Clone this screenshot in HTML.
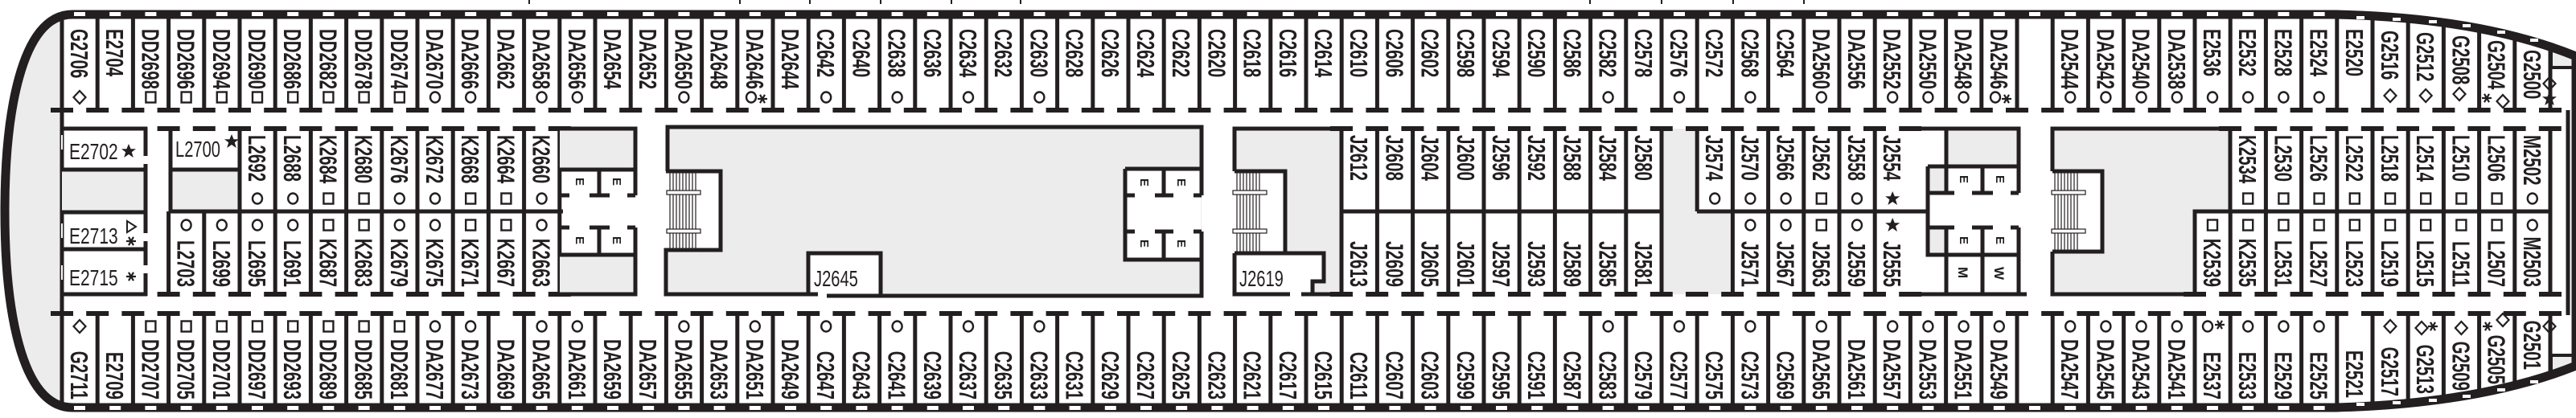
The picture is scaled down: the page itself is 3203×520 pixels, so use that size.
<!DOCTYPE html>
<html><head><meta charset="utf-8"><style>
html,body{margin:0;padding:0;background:#fff}
svg{display:block}
.v{font-family:"Liberation Sans",sans-serif;font-weight:bold;font-size:31px;fill:#231f20}
.h{font-family:"Liberation Sans",sans-serif;font-size:28px;fill:#231f20}
.e{font-family:"Liberation Sans",sans-serif;font-weight:bold;font-size:15px;fill:#231f20}
.ast{font-family:"Liberation Sans",sans-serif;font-weight:bold;font-size:26px;fill:#231f20}
</style></head><body>
<svg width="3203" height="520" viewBox="0 0 3203 520" xmlns="http://www.w3.org/2000/svg">
<defs>
<clipPath id="hc"><path d="M90 18 L2905 18 Q3085 22 3203 70 L3203 455 Q3085 502 2905 507 L90 507 C25 507 6 380 6 263 C6 146 25 18 90 18Z"/></clipPath>
<g id="o"><ellipse cx="0" cy="0" rx="6" ry="6.5" fill="none" stroke="#231f20" stroke-width="2.4"/></g>
<g id="s"><rect x="-6" y="-6.5" width="12" height="13" fill="none" stroke="#231f20" stroke-width="2.4"/></g>
<g id="d"><path d="M0 -8 L7.5 0 L0 8 L-7.5 0Z" fill="none" stroke="#231f20" stroke-width="2.2"/></g>
<g id="k"><path d="M0 -9 L2.6 -2.8 L9 -2.8 L3.8 1.2 L5.8 8 L0 4 L-5.8 8 L-3.8 1.2 L-9 -2.8 L-2.6 -2.8Z" fill="#231f20"/></g>
<g id="a"><path d="M-6 0H6M-3 -5.2L3 5.2M3 -5.2L-3 5.2" stroke="#231f20" stroke-width="2.2"/></g>
<g id="t"><path d="M-5 -7 L6 0 L-5 7Z" fill="none" stroke="#231f20" stroke-width="2"/></g>
</defs>

<!-- ticks above -->
<path d="M658 0V5M920 0V5M1007 0V5M1095 0V5M1183 0V5M1269 0V5M1977 0V5M2066 0V5M2155 0V5M2243 0V5" stroke="#231f20" stroke-width="2"/>

<!-- hull interior -->
<path d="M90 18 L2905 18 Q3085 22 3203 70 L3203 455 Q3085 502 2905 507 L90 507 C25 507 6 380 6 263 C6 146 25 18 90 18Z" fill="#fff"/>
<g clip-path="url(#hc)">
<path d="M77 0 L0 0 L0 520 L77 520Z" fill="#ececec"/>
<path d="M3172 60 L3203 60 L3203 84 L3172 84Z M3172 442 L3203 442 L3203 466 L3172 466Z" fill="#ececec"/>
<path d="M3172 60V84H3203 M3172 466V442H3203" stroke="#231f20" stroke-width="4" fill="none"/>

<!-- row dividers -->
<path stroke="#231f20" stroke-width="5" fill="none" d="
M77 20V137M121.2 20V137M165.4 20V137M209.6 20V137M253.8 20V137M298 20V137M342.2 20V137M386.4 20V137M430.6 20V137M474.8 20V137M519 20V137M563.2 20V137M607.4 20V137M651.6 20V137M695.8 20V137M740 20V137M784.2 20V137M828.4 20V137M872.6 20V137M916.8 20V137M961 20V137M1005.2 20V137M1049.4 20V137M1093.6 20V137M1137.8 20V137M1182 20V137M1226.2 20V137M1270.4 20V137M1314.6 20V137M1358.8 20V137M1403 20V137M1447.2 20V137M1491.4 20V137M1535.6 20V137M1579.8 20V137M1624 20V137M1668.2 20V137M1712.4 20V137M1756.6 20V137M1800.8 20V137M1845 20V137M1889.2 20V137M1933.4 20V137M1977.6 20V137M2021.8 20V137M2066 20V137M2110.2 20V137M2154.4 20V137M2198.6 20V137M2242.8 20V137M2287 20V137M2331.2 20V137M2375.4 20V137M2419.6 20V137M2463.8 20V137M2508 20V137M2552.2 20V137M2596.4 20V137M2640.6 20V137M2684.8 20V137M2729 20V137M2773.2 20V137M2817.4 20V137M2861.6 20V137M2905.8 20V137M2950 20V137M2994.2 20V137M3038.4 20V137M3082.6 20V137M3126.8 20V137M3171 20V137
M77 390V505M121.2 390V505M165.4 390V505M209.6 390V505M253.8 390V505M298 390V505M342.2 390V505M386.4 390V505M430.6 390V505M474.8 390V505M519 390V505M563.2 390V505M607.4 390V505M651.6 390V505M695.8 390V505M740 390V505M784.2 390V505M828.4 390V505M872.6 390V505M916.8 390V505M961 390V505M1005.2 390V505M1049.4 390V505M1093.6 390V505M1137.8 390V505M1182 390V505M1226.2 390V505M1270.4 390V505M1314.6 390V505M1358.8 390V505M1403 390V505M1447.2 390V505M1491.4 390V505M1535.6 390V505M1579.8 390V505M1624 390V505M1668.2 390V505M1712.4 390V505M1756.6 390V505M1800.8 390V505M1845 390V505M1889.2 390V505M1933.4 390V505M1977.6 390V505M2021.8 390V505M2066 390V505M2110.2 390V505M2154.4 390V505M2198.6 390V505M2242.8 390V505M2287 390V505M2331.2 390V505M2375.4 390V505M2419.6 390V505M2463.8 390V505M2508 390V505M2552.2 390V505M2596.4 390V505M2640.6 390V505M2684.8 390V505M2729 390V505M2773.2 390V505M2817.4 390V505M2861.6 390V505M2905.8 390V505M2950 390V505M2994.2 390V505M3038.4 390V505M3082.6 390V505M3126.8 390V505M3171 390V505
M77 20V505 M3193 137V392"/>
<path d="M63 137H3185 M63 390H3185" stroke="#231f20" stroke-width="6" stroke-dasharray="28 16.2"/>

<!-- windows in bands drawn after hull stroke below -->

<!-- ===== middle blocks ===== -->
<!-- E27 group -->
<rect x="77" y="211" width="104" height="53" fill="#ececec"/>
<path d="M77 160H183 M77 211H181 M77 264H181 M77 310H181 M77 366H183 M181 158V194 M181 204V290 M181 300V330 M181 340V368" stroke="#231f20" stroke-width="5" fill="none"/>
<path d="M77 168V186 M77 278V296 M77 330V348" stroke="#fff" stroke-width="2"/>
<text class="h" transform="translate(86,198) scale(.75,1)">E2702</text>
<use href="#k" x="160" y="188"/>
<text class="h" transform="translate(86,303) scale(.75,1)">E2713</text>
<use href="#t" x="163" y="282"/><use href="#a" x="163" y="300"/>
<text class="h" transform="translate(86,355) scale(.75,1)">E2715</text>
<use href="#a" x="163" y="344"/>

<!-- L2700 -->
<rect x="212" y="211" width="86" height="52" fill="#ececec"/>
<path d="M212 160V263 M212 211H298" stroke="#231f20" stroke-width="5" fill="none"/>
<text class="h" transform="translate(218,195) scale(.72,1)">L2700</text>
<use href="#k" x="288" y="176"/>

<!-- mid cells left -->
<path stroke="#231f20" stroke-width="5" fill="none" d="M209.6 263H700
M298 160V263M342.2 160V263M386.4 160V263M430.6 160V263M474.8 160V263M519 160V263M563.2 160V263M607.4 160V263M651.6 160V263M695.8 160V366
M209.6 263V366M253.8 263V366M298 263V366M342.2 263V366M386.4 263V366M430.6 263V366M474.8 263V366M519 263V366M563.2 263V366M607.4 263V366M651.6 263V366"/>
<path d="M195.6 160H710 M195.6 366H710" stroke="#231f20" stroke-width="6" stroke-dasharray="28 16.2"/>

<!-- elevator block 1 -->
<rect x="696" y="160" width="94" height="51" fill="#ececec"/>
<rect x="696" y="317" width="94" height="49" fill="#ececec"/>
<path stroke="#231f20" stroke-width="5" fill="none" d="M696 160H790V243 M790 283V366H696 M696 211H790 M696 317H790 M745 211V243 M696 243H708 M733 243H758 M780 243H790 M745 283V317 M696 283H708 M733 283H758 M780 283H790"/>
<text class="e" transform="translate(716,221) rotate(90)">E</text><text class="e" transform="translate(762,221) rotate(90)">E</text>
<text class="e" transform="translate(716,294) rotate(90)">E</text><text class="e" transform="translate(762,294) rotate(90)">E</text>

<!-- atrium 1 -->
<rect x="830" y="160" width="664" height="206" fill="#ececec"/>
<rect x="830" y="213" width="66" height="98" fill="#fff"/>
<rect x="1005" y="315" width="90" height="51" fill="#fff"/>
<rect x="1399" y="210" width="94" height="113" fill="#fff"/>
<path stroke="#231f20" stroke-width="5" fill="none" d="M830 213V158H1494V243 M1494 288V368H1028 M1017 366H828V311H896V213H828 M1005 366V315H1095V366 M1399 210H1494 M1399 210V323H1494 M1447 210V243 M1399 243H1411 M1436 243H1459 M1484 243H1494 M1447 288V323 M1399 288H1411 M1436 288H1459 M1484 288H1494"/>
<path stroke="#231f20" stroke-width="1.2" d="M833 213V311M837 213V311M841 213V311M845 213V311M849 213V311M853 213V311M857 213V311M861 213V311M865 213V311"/>
<rect x="829" y="237" width="42" height="5" fill="#fff" stroke="#231f20" stroke-width="1.2"/>
<rect x="829" y="285" width="42" height="5" fill="#fff" stroke="#231f20" stroke-width="1.2"/>
<text class="h" transform="translate(1012,356) scale(.72,1)">J2645</text>
<text class="e" transform="translate(1418,222) rotate(90)">E</text><text class="e" transform="translate(1464,222) rotate(90)">E</text>
<text class="e" transform="translate(1418,298) rotate(90)">E</text><text class="e" transform="translate(1464,298) rotate(90)">E</text>

<!-- block E -->
<rect x="1535" y="160" width="133" height="206" fill="#ececec"/>
<rect x="1535" y="213" width="63" height="100" fill="#fff"/>
<path d="M1535 315H1646V350H1632V366H1535Z" fill="#fff"/>
<path stroke="#231f20" stroke-width="5" fill="none" d="M1535 213V160H1668V366 M1535 213H1598V313 M1535 315H1646V350H1632V366 M1535 315V366H1604 M1618 366H1668"/>
<path stroke="#231f20" stroke-width="1.2" d="M1538 213V313M1542 213V313M1546 213V313M1550 213V313M1554 213V313M1558 213V313M1562 213V313M1566 213V313"/>
<rect x="1533" y="237" width="42" height="5" fill="#fff" stroke="#231f20" stroke-width="1.2"/>
<rect x="1533" y="285" width="42" height="5" fill="#fff" stroke="#231f20" stroke-width="1.2"/>
<text class="h" transform="translate(1541,356) scale(.72,1)">J2619</text>

<!-- J cells + grey -->
<path d="M2066 160H2110V263H2154V366H2066Z" fill="#ececec"/>
<path stroke="#231f20" stroke-width="5" fill="none" d="M1668 263H2066 M2110 263H2397
M1712.4 160V366M1756.6 160V366M1800.8 160V366M1845 160V366M1889.2 160V366M1933.4 160V366M1977.6 160V366M2021.8 160V366M2066 160V366
M2110.2 160V263M2154.4 160V366M2198.6 160V366M2242.8 160V366M2287 160V366M2331.2 160V366 M2154.4 263V366"/>
<path d="M1654 160H2400 M1654 366H2400" stroke="#231f20" stroke-width="6" stroke-dasharray="28 16.2"/>

<!-- elevator block 2 -->
<rect x="2420" y="160" width="90" height="47" fill="#ececec"/>
<rect x="2397" y="207" width="23" height="33" fill="#ececec"/>
<rect x="2397" y="283" width="23" height="34" fill="#ececec"/>
<path stroke="#231f20" stroke-width="5" fill="none" d="M2380 160H2510V240 M2420 160V207 M2397 207H2510 M2397 207V317H2420 M2420 207V240 M2465 207V240 M2397 240H2430 M2452 240H2478 M2500 240H2510 M2397 283H2430 M2452 283H2478 M2500 283H2510 M2510 283V366 M2420 283V366 M2465 283V366 M2420 317H2510 M2397 366H2520 M2375 366H2397"/>
<text class="e" transform="translate(2437,218) rotate(90)">E</text><text class="e" transform="translate(2482,218) rotate(90)">E</text>
<text class="e" transform="translate(2437,294) rotate(90)">E</text><text class="e" transform="translate(2482,294) rotate(90)">E</text>
<text class="e" transform="translate(2435,332) rotate(90)" style="font-size:17px">M</text><text class="e" transform="translate(2480,332) rotate(90)" style="font-size:17px">W</text>

<!-- atrium 2 -->
<path d="M2552 160H2773V263H2729V366H2552Z" fill="#ececec"/>
<rect x="2552" y="213" width="62" height="100" fill="#fff"/>
<path stroke="#231f20" stroke-width="5" fill="none" d="M2552 213V160H2773V263H2729V366H2552V313 M2552 213H2614V313H2552"/>
<path stroke="#231f20" stroke-width="1.2" d="M2555 213V313M2559 213V313M2563 213V313M2567 213V313M2571 213V313M2575 213V313M2579 213V313M2583 213V313"/>
<rect x="2551" y="237" width="42" height="5" fill="#fff" stroke="#231f20" stroke-width="1.2"/>
<rect x="2551" y="285" width="42" height="5" fill="#fff" stroke="#231f20" stroke-width="1.2"/>

<!-- right mid cells -->
<path stroke="#231f20" stroke-width="5" fill="none" d="M2729 263H3171
M2817.4 160V366M2861.6 160V366M2905.8 160V366M2950 160V366M2994.2 160V366M3038.4 160V366M3082.6 160V366M3126.8 160V366M3171 160V366M2773.2 263V366"/>
<path d="M2759 160H3185 M2715 366H3185" stroke="#231f20" stroke-width="6" stroke-dasharray="28 16.2"/>
</g>

<!-- hull outline -->
<path d="M90 18 L2905 18 Q3085 22 3203 70 L3203 455 Q3085 502 2905 507 L90 507 C25 507 6 380 6 263 C6 146 25 18 90 18Z" fill="none" stroke="#231f20" stroke-width="11"/>
<path d="M92 17.5H2905 M92 507.5H2905" stroke="#fff" stroke-width="5" stroke-dasharray="14 30.2"/>
<path d="M2930 20h10v4h-10zM2975 22h10v4h-10zM3020 25h10v4h-10zM3062 30h10v4h-10zM3105 38h10v4h-10zM3146 48h10v4h-10zM2930 501h10v4h-10zM2975 499h10v4h-10zM3020 496h10v4h-10zM3062 491h10v4h-10zM3105 483h10v4h-10zM3146 473h10v4h-10z" fill="#fff"/>

<!-- ===== top row labels ===== -->
<g class="v">
<text transform="translate(88,36) rotate(90) scale(.66,1)">G2706</text>
<text transform="translate(132.2,36) rotate(90) scale(.66,1)">E2704</text>
<text transform="translate(176.4,36) rotate(90) scale(.66,1)">DD2698</text>
<text transform="translate(220.6,36) rotate(90) scale(.66,1)">DD2696</text>
<text transform="translate(264.8,36) rotate(90) scale(.66,1)">DD2694</text>
<text transform="translate(309,36) rotate(90) scale(.66,1)">DD2690</text>
<text transform="translate(353.2,36) rotate(90) scale(.66,1)">DD2686</text>
<text transform="translate(397.4,36) rotate(90) scale(.66,1)">DD2682</text>
<text transform="translate(441.6,36) rotate(90) scale(.66,1)">DD2678</text>
<text transform="translate(485.8,36) rotate(90) scale(.66,1)">DD2674</text>
<text transform="translate(530,36) rotate(90) scale(.66,1)">DA2670</text>
<text transform="translate(574.2,36) rotate(90) scale(.66,1)">DA2666</text>
<text transform="translate(618.4,36) rotate(90) scale(.66,1)">DA2662</text>
<text transform="translate(662.6,36) rotate(90) scale(.66,1)">DA2658</text>
<text transform="translate(706.8,36) rotate(90) scale(.66,1)">DA2656</text>
<text transform="translate(751,36) rotate(90) scale(.66,1)">DA2654</text>
<text transform="translate(795.2,36) rotate(90) scale(.66,1)">DA2652</text>
<text transform="translate(839.4,36) rotate(90) scale(.66,1)">DA2650</text>
<text transform="translate(883.6,36) rotate(90) scale(.66,1)">DA2648</text>
<text transform="translate(927.8,36) rotate(90) scale(.66,1)">DA2646</text>
<text transform="translate(972,36) rotate(90) scale(.66,1)">DA2644</text>
<text transform="translate(1016.2,36) rotate(90) scale(.66,1)">C2642</text>
<text transform="translate(1060.4,36) rotate(90) scale(.66,1)">C2640</text>
<text transform="translate(1104.6,36) rotate(90) scale(.66,1)">C2638</text>
<text transform="translate(1148.8,36) rotate(90) scale(.66,1)">C2636</text>
<text transform="translate(1193,36) rotate(90) scale(.66,1)">C2634</text>
<text transform="translate(1237.2,36) rotate(90) scale(.66,1)">C2632</text>
<text transform="translate(1281.4,36) rotate(90) scale(.66,1)">C2630</text>
<text transform="translate(1325.6,36) rotate(90) scale(.66,1)">C2628</text>
<text transform="translate(1369.8,36) rotate(90) scale(.66,1)">C2626</text>
<text transform="translate(1414,36) rotate(90) scale(.66,1)">C2624</text>
<text transform="translate(1458.2,36) rotate(90) scale(.66,1)">C2622</text>
<text transform="translate(1502.4,36) rotate(90) scale(.66,1)">C2620</text>
<text transform="translate(1546.6,36) rotate(90) scale(.66,1)">C2618</text>
<text transform="translate(1590.8,36) rotate(90) scale(.66,1)">C2616</text>
<text transform="translate(1635,36) rotate(90) scale(.66,1)">C2614</text>
<text transform="translate(1679.2,36) rotate(90) scale(.66,1)">C2610</text>
<text transform="translate(1723.4,36) rotate(90) scale(.66,1)">C2606</text>
<text transform="translate(1767.6,36) rotate(90) scale(.66,1)">C2602</text>
<text transform="translate(1811.8,36) rotate(90) scale(.66,1)">C2598</text>
<text transform="translate(1856,36) rotate(90) scale(.66,1)">C2594</text>
<text transform="translate(1900.2,36) rotate(90) scale(.66,1)">C2590</text>
<text transform="translate(1944.4,36) rotate(90) scale(.66,1)">C2586</text>
<text transform="translate(1988.6,36) rotate(90) scale(.66,1)">C2582</text>
<text transform="translate(2032.8,36) rotate(90) scale(.66,1)">C2578</text>
<text transform="translate(2077,36) rotate(90) scale(.66,1)">C2576</text>
<text transform="translate(2121.2,36) rotate(90) scale(.66,1)">C2572</text>
<text transform="translate(2165.4,36) rotate(90) scale(.66,1)">C2568</text>
<text transform="translate(2209.6,36) rotate(90) scale(.66,1)">C2564</text>
<text transform="translate(2253.8,36) rotate(90) scale(.66,1)">DA2560</text>
<text transform="translate(2298,36) rotate(90) scale(.66,1)">DA2556</text>
<text transform="translate(2342.2,36) rotate(90) scale(.66,1)">DA2552</text>
<text transform="translate(2386.4,36) rotate(90) scale(.66,1)">DA2550</text>
<text transform="translate(2430.6,36) rotate(90) scale(.66,1)">DA2548</text>
<text transform="translate(2474.8,36) rotate(90) scale(.66,1)">DA2546</text>
<text transform="translate(2563.2,36) rotate(90) scale(.66,1)">DA2544</text>
<text transform="translate(2607.4,36) rotate(90) scale(.66,1)">DA2542</text>
<text transform="translate(2651.6,36) rotate(90) scale(.66,1)">DA2540</text>
<text transform="translate(2695.8,36) rotate(90) scale(.66,1)">DA2538</text>
<text transform="translate(2740,36) rotate(90) scale(.66,1)">E2536</text>
<text transform="translate(2784.2,36) rotate(90) scale(.66,1)">E2532</text>
<text transform="translate(2828.4,36) rotate(90) scale(.66,1)">E2528</text>
<text transform="translate(2872.6,36) rotate(90) scale(.66,1)">E2524</text>
<text transform="translate(2916.8,36) rotate(90) scale(.66,1)">E2520</text>
<text transform="translate(2961,38) rotate(90) scale(.66,1)">G2516</text>
<text transform="translate(3005.2,40) rotate(90) scale(.66,1)">G2512</text>
<text transform="translate(3049.4,44) rotate(90) scale(.66,1)">G2508</text>
<text transform="translate(3093.6,50) rotate(90) scale(.66,1)">G2504</text>
<text transform="translate(3137.8,62) rotate(90) scale(.66,1)">G2500</text>

<!-- bottom row -->
<text text-anchor="end" transform="translate(88,497) rotate(90) scale(.66,1)">G2711</text>
<text text-anchor="end" transform="translate(132.2,497) rotate(90) scale(.66,1)">E2709</text>
<text text-anchor="end" transform="translate(176.4,497) rotate(90) scale(.66,1)">DD2707</text>
<text text-anchor="end" transform="translate(220.6,497) rotate(90) scale(.66,1)">DD2705</text>
<text text-anchor="end" transform="translate(264.8,497) rotate(90) scale(.66,1)">DD2701</text>
<text text-anchor="end" transform="translate(309,497) rotate(90) scale(.66,1)">DD2697</text>
<text text-anchor="end" transform="translate(353.2,497) rotate(90) scale(.66,1)">DD2693</text>
<text text-anchor="end" transform="translate(397.4,497) rotate(90) scale(.66,1)">DD2689</text>
<text text-anchor="end" transform="translate(441.6,497) rotate(90) scale(.66,1)">DD2685</text>
<text text-anchor="end" transform="translate(485.8,497) rotate(90) scale(.66,1)">DD2681</text>
<text text-anchor="end" transform="translate(530,497) rotate(90) scale(.66,1)">DA2677</text>
<text text-anchor="end" transform="translate(574.2,497) rotate(90) scale(.66,1)">DA2673</text>
<text text-anchor="end" transform="translate(618.4,497) rotate(90) scale(.66,1)">DA2669</text>
<text text-anchor="end" transform="translate(662.6,497) rotate(90) scale(.66,1)">DA2665</text>
<text text-anchor="end" transform="translate(706.8,497) rotate(90) scale(.66,1)">DA2661</text>
<text text-anchor="end" transform="translate(751,497) rotate(90) scale(.66,1)">DA2659</text>
<text text-anchor="end" transform="translate(795.2,497) rotate(90) scale(.66,1)">DA2657</text>
<text text-anchor="end" transform="translate(839.4,497) rotate(90) scale(.66,1)">DA2655</text>
<text text-anchor="end" transform="translate(883.6,497) rotate(90) scale(.66,1)">DA2653</text>
<text text-anchor="end" transform="translate(927.8,497) rotate(90) scale(.66,1)">DA2651</text>
<text text-anchor="end" transform="translate(972,497) rotate(90) scale(.66,1)">DA2649</text>
<text text-anchor="end" transform="translate(1016.2,497) rotate(90) scale(.66,1)">C2647</text>
<text text-anchor="end" transform="translate(1060.4,497) rotate(90) scale(.66,1)">C2643</text>
<text text-anchor="end" transform="translate(1104.6,497) rotate(90) scale(.66,1)">C2641</text>
<text text-anchor="end" transform="translate(1148.8,497) rotate(90) scale(.66,1)">C2639</text>
<text text-anchor="end" transform="translate(1193,497) rotate(90) scale(.66,1)">C2637</text>
<text text-anchor="end" transform="translate(1237.2,497) rotate(90) scale(.66,1)">C2635</text>
<text text-anchor="end" transform="translate(1281.4,497) rotate(90) scale(.66,1)">C2633</text>
<text text-anchor="end" transform="translate(1325.6,497) rotate(90) scale(.66,1)">C2631</text>
<text text-anchor="end" transform="translate(1369.8,497) rotate(90) scale(.66,1)">C2629</text>
<text text-anchor="end" transform="translate(1414,497) rotate(90) scale(.66,1)">C2627</text>
<text text-anchor="end" transform="translate(1458.2,497) rotate(90) scale(.66,1)">C2625</text>
<text text-anchor="end" transform="translate(1502.4,497) rotate(90) scale(.66,1)">C2623</text>
<text text-anchor="end" transform="translate(1546.6,497) rotate(90) scale(.66,1)">C2621</text>
<text text-anchor="end" transform="translate(1590.8,497) rotate(90) scale(.66,1)">C2617</text>
<text text-anchor="end" transform="translate(1635,497) rotate(90) scale(.66,1)">C2615</text>
<text text-anchor="end" transform="translate(1679.2,497) rotate(90) scale(.66,1)">C2611</text>
<text text-anchor="end" transform="translate(1723.4,497) rotate(90) scale(.66,1)">C2607</text>
<text text-anchor="end" transform="translate(1767.6,497) rotate(90) scale(.66,1)">C2603</text>
<text text-anchor="end" transform="translate(1811.8,497) rotate(90) scale(.66,1)">C2599</text>
<text text-anchor="end" transform="translate(1856,497) rotate(90) scale(.66,1)">C2595</text>
<text text-anchor="end" transform="translate(1900.2,497) rotate(90) scale(.66,1)">C2591</text>
<text text-anchor="end" transform="translate(1944.4,497) rotate(90) scale(.66,1)">C2587</text>
<text text-anchor="end" transform="translate(1988.6,497) rotate(90) scale(.66,1)">C2583</text>
<text text-anchor="end" transform="translate(2032.8,497) rotate(90) scale(.66,1)">C2579</text>
<text text-anchor="end" transform="translate(2077,497) rotate(90) scale(.66,1)">C2577</text>
<text text-anchor="end" transform="translate(2121.2,497) rotate(90) scale(.66,1)">C2575</text>
<text text-anchor="end" transform="translate(2165.4,497) rotate(90) scale(.66,1)">C2573</text>
<text text-anchor="end" transform="translate(2209.6,497) rotate(90) scale(.66,1)">C2569</text>
<text text-anchor="end" transform="translate(2253.8,497) rotate(90) scale(.66,1)">DA2565</text>
<text text-anchor="end" transform="translate(2298,497) rotate(90) scale(.66,1)">DA2561</text>
<text text-anchor="end" transform="translate(2342.2,497) rotate(90) scale(.66,1)">DA2557</text>
<text text-anchor="end" transform="translate(2386.4,497) rotate(90) scale(.66,1)">DA2553</text>
<text text-anchor="end" transform="translate(2430.6,497) rotate(90) scale(.66,1)">DA2551</text>
<text text-anchor="end" transform="translate(2474.8,497) rotate(90) scale(.66,1)">DA2549</text>
<text text-anchor="end" transform="translate(2563.2,497) rotate(90) scale(.66,1)">DA2547</text>
<text text-anchor="end" transform="translate(2607.4,497) rotate(90) scale(.66,1)">DA2545</text>
<text text-anchor="end" transform="translate(2651.6,497) rotate(90) scale(.66,1)">DA2543</text>
<text text-anchor="end" transform="translate(2695.8,497) rotate(90) scale(.66,1)">DA2541</text>
<text text-anchor="end" transform="translate(2740,497) rotate(90) scale(.66,1)">E2537</text>
<text text-anchor="end" transform="translate(2784.2,497) rotate(90) scale(.66,1)">E2533</text>
<text text-anchor="end" transform="translate(2828.4,497) rotate(90) scale(.66,1)">E2529</text>
<text text-anchor="end" transform="translate(2872.6,497) rotate(90) scale(.66,1)">E2525</text>
<text text-anchor="end" transform="translate(2916.8,495) rotate(90) scale(.66,1)">E2521</text>
<text text-anchor="end" transform="translate(2961,493) rotate(90) scale(.66,1)">G2517</text>
<text text-anchor="end" transform="translate(3005.2,490) rotate(90) scale(.66,1)">G2513</text>
<text text-anchor="end" transform="translate(3049.4,486) rotate(90) scale(.66,1)">G2509</text>
<text text-anchor="end" transform="translate(3093.6,478) rotate(90) scale(.66,1)">G2505</text>
<text text-anchor="end" transform="translate(3137.8,460) rotate(90) scale(.66,1)">G2501</text>

<!-- middle top -->
<text transform="translate(309,168) rotate(90) scale(.66,1)">L2692</text>
<text transform="translate(353.2,168) rotate(90) scale(.66,1)">L2688</text>
<text transform="translate(397.4,168) rotate(90) scale(.66,1)">K2684</text>
<text transform="translate(441.6,168) rotate(90) scale(.66,1)">K2680</text>
<text transform="translate(485.8,168) rotate(90) scale(.66,1)">K2676</text>
<text transform="translate(530,168) rotate(90) scale(.66,1)">K2672</text>
<text transform="translate(574.2,168) rotate(90) scale(.66,1)">K2668</text>
<text transform="translate(618.4,168) rotate(90) scale(.66,1)">K2664</text>
<text transform="translate(662.6,168) rotate(90) scale(.66,1)">K2660</text>
<text transform="translate(1679.2,168) rotate(90) scale(.66,1)">J2612</text>
<text transform="translate(1723.4,168) rotate(90) scale(.66,1)">J2608</text>
<text transform="translate(1767.6,168) rotate(90) scale(.66,1)">J2604</text>
<text transform="translate(1811.8,168) rotate(90) scale(.66,1)">J2600</text>
<text transform="translate(1856,168) rotate(90) scale(.66,1)">J2596</text>
<text transform="translate(1900.2,168) rotate(90) scale(.66,1)">J2592</text>
<text transform="translate(1944.4,168) rotate(90) scale(.66,1)">J2588</text>
<text transform="translate(1988.6,168) rotate(90) scale(.66,1)">J2584</text>
<text transform="translate(2032.8,168) rotate(90) scale(.66,1)">J2580</text>
<text transform="translate(2121.2,168) rotate(90) scale(.66,1)">J2574</text>
<text transform="translate(2165.4,168) rotate(90) scale(.66,1)">J2570</text>
<text transform="translate(2209.6,168) rotate(90) scale(.66,1)">J2566</text>
<text transform="translate(2253.8,168) rotate(90) scale(.66,1)">J2562</text>
<text transform="translate(2298,168) rotate(90) scale(.66,1)">J2558</text>
<text transform="translate(2342.2,168) rotate(90) scale(.66,1)">J2554</text>
<text transform="translate(2784.2,168) rotate(90) scale(.66,1)">K2534</text>
<text transform="translate(2828.4,168) rotate(90) scale(.66,1)">L2530</text>
<text transform="translate(2872.6,168) rotate(90) scale(.66,1)">L2526</text>
<text transform="translate(2916.8,168) rotate(90) scale(.66,1)">L2522</text>
<text transform="translate(2961,168) rotate(90) scale(.66,1)">L2518</text>
<text transform="translate(3005.2,168) rotate(90) scale(.66,1)">L2514</text>
<text transform="translate(3049.4,168) rotate(90) scale(.66,1)">L2510</text>
<text transform="translate(3093.6,168) rotate(90) scale(.66,1)">L2506</text>
<text transform="translate(3137.8,168) rotate(90) scale(.66,1)">M2502</text>

<!-- middle bottom -->
<text text-anchor="end" transform="translate(220.6,357) rotate(90) scale(.66,1)">L2703</text>
<text text-anchor="end" transform="translate(264.8,357) rotate(90) scale(.66,1)">L2699</text>
<text text-anchor="end" transform="translate(309,357) rotate(90) scale(.66,1)">L2695</text>
<text text-anchor="end" transform="translate(353.2,357) rotate(90) scale(.66,1)">L2691</text>
<text text-anchor="end" transform="translate(397.4,357) rotate(90) scale(.66,1)">K2687</text>
<text text-anchor="end" transform="translate(441.6,357) rotate(90) scale(.66,1)">K2683</text>
<text text-anchor="end" transform="translate(485.8,357) rotate(90) scale(.66,1)">K2679</text>
<text text-anchor="end" transform="translate(530,357) rotate(90) scale(.66,1)">K2675</text>
<text text-anchor="end" transform="translate(574.2,357) rotate(90) scale(.66,1)">K2671</text>
<text text-anchor="end" transform="translate(618.4,357) rotate(90) scale(.66,1)">K2667</text>
<text text-anchor="end" transform="translate(662.6,357) rotate(90) scale(.66,1)">K2663</text>
<text text-anchor="end" transform="translate(1679.2,357) rotate(90) scale(.66,1)">J2613</text>
<text text-anchor="end" transform="translate(1723.4,357) rotate(90) scale(.66,1)">J2609</text>
<text text-anchor="end" transform="translate(1767.6,357) rotate(90) scale(.66,1)">J2605</text>
<text text-anchor="end" transform="translate(1811.8,357) rotate(90) scale(.66,1)">J2601</text>
<text text-anchor="end" transform="translate(1856,357) rotate(90) scale(.66,1)">J2597</text>
<text text-anchor="end" transform="translate(1900.2,357) rotate(90) scale(.66,1)">J2593</text>
<text text-anchor="end" transform="translate(1944.4,357) rotate(90) scale(.66,1)">J2589</text>
<text text-anchor="end" transform="translate(1988.6,357) rotate(90) scale(.66,1)">J2585</text>
<text text-anchor="end" transform="translate(2032.8,357) rotate(90) scale(.66,1)">J2581</text>
<text text-anchor="end" transform="translate(2165.4,357) rotate(90) scale(.66,1)">J2571</text>
<text text-anchor="end" transform="translate(2209.6,357) rotate(90) scale(.66,1)">J2567</text>
<text text-anchor="end" transform="translate(2253.8,357) rotate(90) scale(.66,1)">J2563</text>
<text text-anchor="end" transform="translate(2298,357) rotate(90) scale(.66,1)">J2559</text>
<text text-anchor="end" transform="translate(2342.2,357) rotate(90) scale(.66,1)">J2555</text>
<text text-anchor="end" transform="translate(2740,357) rotate(90) scale(.66,1)">K2539</text>
<text text-anchor="end" transform="translate(2784.2,357) rotate(90) scale(.66,1)">K2535</text>
<text text-anchor="end" transform="translate(2828.4,357) rotate(90) scale(.66,1)">L2531</text>
<text text-anchor="end" transform="translate(2872.6,357) rotate(90) scale(.66,1)">L2527</text>
<text text-anchor="end" transform="translate(2916.8,357) rotate(90) scale(.66,1)">L2523</text>
<text text-anchor="end" transform="translate(2961,357) rotate(90) scale(.66,1)">L2519</text>
<text text-anchor="end" transform="translate(3005.2,357) rotate(90) scale(.66,1)">L2515</text>
<text text-anchor="end" transform="translate(3049.4,357) rotate(90) scale(.66,1)">L2511</text>
<text text-anchor="end" transform="translate(3093.6,357) rotate(90) scale(.66,1)">L2507</text>
<text text-anchor="end" transform="translate(3137.8,357) rotate(90) scale(.66,1)">M2503</text>
</g>

<!-- markers top row -->
<use href="#d" x="99" y="121"/>
<use href="#s" x="187.4" y="121"/><use href="#s" x="231.6" y="121"/><use href="#s" x="275.8" y="121"/><use href="#s" x="320" y="121"/><use href="#s" x="364.2" y="121"/><use href="#s" x="408.4" y="121"/><use href="#s" x="452.6" y="121"/><use href="#s" x="496.8" y="121"/>
<use href="#o" x="541" y="121"/><use href="#o" x="585.2" y="121"/><use href="#o" x="673.6" y="121"/><use href="#o" x="717.8" y="121"/><use href="#o" x="850.4" y="121"/>
<use href="#o" x="934" y="121"/><use href="#a" x="948" y="123"/>
<use href="#o" x="1027.2" y="121"/><use href="#o" x="1115.6" y="121"/><use href="#o" x="1204" y="121"/><use href="#o" x="1292.4" y="121"/>
<use href="#o" x="1999.6" y="121"/><use href="#o" x="2088" y="121"/><use href="#o" x="2176.4" y="121"/>
<use href="#o" x="2264.8" y="121"/><use href="#o" x="2353.2" y="121"/><use href="#o" x="2397.4" y="121"/><use href="#o" x="2441.6" y="121"/>
<use href="#o" x="2481" y="121"/><use href="#a" x="2495" y="123"/>
<use href="#o" x="2574.2" y="121"/><use href="#o" x="2618.4" y="121"/><use href="#o" x="2662.6" y="121"/><use href="#o" x="2706.8" y="121"/>
<use href="#o" x="2751" y="121"/><use href="#o" x="2795.2" y="121"/><use href="#o" x="2839.4" y="121"/><use href="#o" x="2883.6" y="121"/>
<use href="#d" x="2972" y="119"/><use href="#d" x="3016.2" y="119"/><use href="#d" x="3058" y="117"/>
<use href="#a" x="3092" y="122"/><use href="#d" x="3112" y="126"/>
<use href="#d" x="3170" y="104"/><use href="#k" x="3170" y="123"/>

<!-- markers bottom row -->
<use href="#d" x="99" y="406"/>
<use href="#s" x="187.4" y="406"/><use href="#s" x="231.6" y="406"/><use href="#s" x="275.8" y="406"/><use href="#s" x="320" y="406"/><use href="#s" x="364.2" y="406"/><use href="#s" x="408.4" y="406"/><use href="#s" x="452.6" y="406"/><use href="#s" x="496.8" y="406"/>
<use href="#o" x="541" y="406"/><use href="#o" x="585.2" y="406"/><use href="#o" x="673.6" y="406"/><use href="#o" x="717.8" y="406"/><use href="#o" x="850.4" y="406"/><use href="#o" x="938.8" y="406"/>
<use href="#o" x="1027.2" y="406"/><use href="#o" x="1115.6" y="406"/><use href="#o" x="1204" y="406"/><use href="#o" x="1292.4" y="406"/>
<use href="#o" x="1999.6" y="406"/><use href="#o" x="2088" y="406"/><use href="#o" x="2176.4" y="406"/>
<use href="#o" x="2264.8" y="406"/><use href="#o" x="2353.2" y="406"/><use href="#o" x="2397.4" y="406"/><use href="#o" x="2441.6" y="406"/><use href="#o" x="2485.8" y="406"/>
<use href="#o" x="2574.2" y="406"/><use href="#o" x="2618.4" y="406"/><use href="#o" x="2662.6" y="406"/><use href="#o" x="2706.8" y="406"/>
<use href="#o" x="2745" y="406"/><use href="#a" x="2760" y="404"/>
<use href="#o" x="2795.2" y="406"/><use href="#o" x="2839.4" y="406"/><use href="#o" x="2883.6" y="406"/>
<use href="#d" x="2972" y="406"/>
<use href="#d" x="3011" y="408"/><use href="#a" x="3025" y="406"/>
<use href="#d" x="3060.4" y="408"/>
<use href="#a" x="3093" y="406"/><use href="#d" x="3112" y="398"/>
<use href="#d" x="3170" y="406"/>

<!-- markers middle top -->
<use href="#o" x="320" y="247"/><use href="#o" x="364.2" y="247"/><use href="#s" x="408.4" y="247"/><use href="#s" x="452.6" y="247"/><use href="#o" x="496.8" y="247"/><use href="#o" x="541" y="247"/><use href="#s" x="585.2" y="247"/><use href="#s" x="629.4" y="247"/><use href="#o" x="673.6" y="247"/>
<use href="#o" x="2132.2" y="247"/><use href="#o" x="2176.4" y="247"/><use href="#o" x="2220.6" y="247"/><use href="#s" x="2264.8" y="247"/><use href="#o" x="2309" y="247"/><use href="#k" x="2353.2" y="247"/>
<use href="#s" x="2795.2" y="247"/><use href="#s" x="2839.4" y="247"/><use href="#s" x="2883.6" y="247"/><use href="#s" x="2927.8" y="247"/><use href="#s" x="2972" y="247"/><use href="#s" x="3016.2" y="247"/><use href="#s" x="3060.4" y="247"/><use href="#s" x="3104.6" y="247"/><use href="#o" x="3148.8" y="247"/>
<!-- markers middle bottom -->
<use href="#o" x="231.6" y="280"/><use href="#o" x="275.8" y="280"/><use href="#o" x="320" y="280"/><use href="#o" x="364.2" y="280"/><use href="#s" x="408.4" y="280"/><use href="#s" x="452.6" y="280"/><use href="#o" x="496.8" y="280"/><use href="#o" x="541" y="280"/><use href="#s" x="585.2" y="280"/><use href="#s" x="629.4" y="280"/><use href="#o" x="673.6" y="280"/>
<use href="#o" x="2176.4" y="280"/><use href="#o" x="2220.6" y="280"/><use href="#s" x="2264.8" y="280"/><use href="#o" x="2309" y="280"/><use href="#k" x="2353.2" y="280"/>
<use href="#s" x="2751" y="280"/><use href="#s" x="2795.2" y="280"/><use href="#s" x="2839.4" y="280"/><use href="#s" x="2883.6" y="280"/><use href="#s" x="2927.8" y="280"/><use href="#s" x="2972" y="280"/><use href="#s" x="3016.2" y="280"/><use href="#s" x="3060.4" y="280"/><use href="#s" x="3104.6" y="280"/><use href="#o" x="3148.8" y="280"/>
</svg>
</body></html>
